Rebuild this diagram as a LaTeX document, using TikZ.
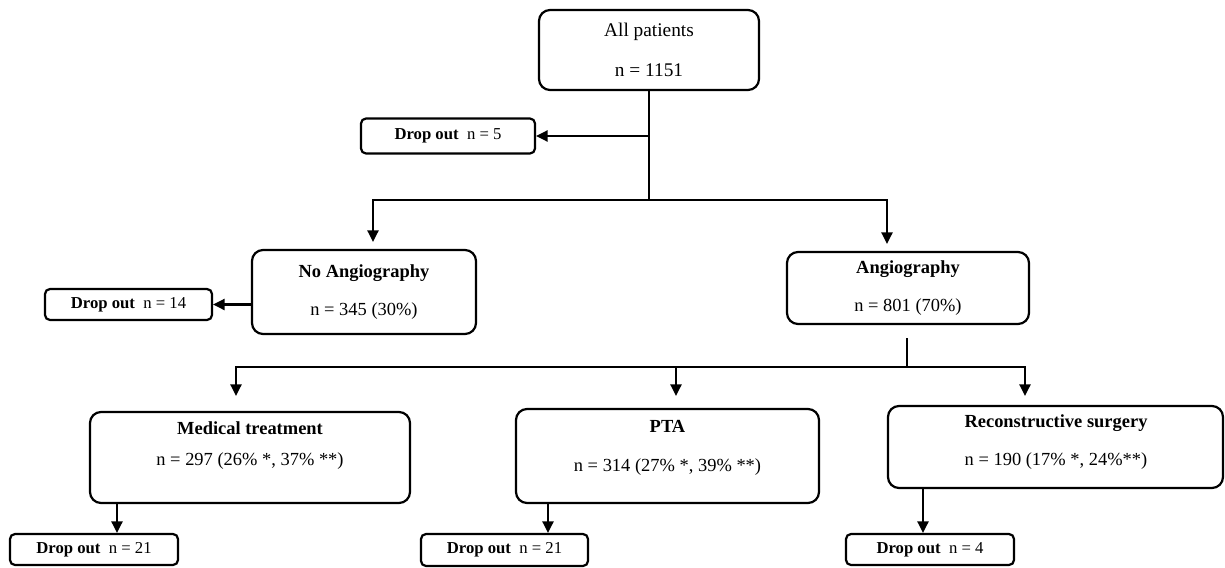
\documentclass[tikz,border=0pt]{standalone}
\usepackage{fontspec}
\setmainfont{Liberation Serif}
\usetikzlibrary{arrows.meta}

\newcommand{\dropout}[1]{\textbf{Drop out}\enspace n = #1}

\begin{document}
\begin{tikzpicture}[
    bigbox/.style={draw, line width=1.25pt, rounded corners=0.22cm},
    dropbox/.style={draw, line width=1.25pt, rounded corners=0.1cm, font=\fontsize{9.5}{11.4}\selectfont},
    boxtext/.style={align=center, font=\fontsize{10.5}{12.6}\selectfont},
    ln/.style={line width=1.25pt},
    arr/.style={line width=1.25pt, -{Triangle[length=0.23cm,width=0.22cm]}}
]
    \useasboundingbox (0,0) rectangle (24.5,-11.34);

    % top
    \node[bigbox, minimum width=4.4cm, minimum height=1.6cm, align=center, font=\fontsize{11}{13.2}\selectfont] (all) at (12.98,-1.0) {All patients\\[10pt] n = 1151};
    \node[dropbox, minimum width=3.48cm, minimum height=0.7cm] (drop0) at (8.96,-2.72) {\dropout{5}};

    % first split
    \node[bigbox, boxtext, minimum width=4.48cm, minimum height=1.68cm] (noang) at (7.28,-5.84) {\textbf{No Angiography}\\[9.5pt] n = 345 (30\%)};
    \node[dropbox, minimum width=3.34cm, minimum height=0.62cm] (drop1) at (2.57,-6.09) {\dropout{14}};
    \node[bigbox, boxtext, minimum width=4.84cm, minimum height=1.44cm] (ang) at (18.16,-5.76) {\textbf{Angiography}\\[9.5pt] n = 801 (70\%)};

    % second split
    \node[bigbox, minimum width=6.4cm, minimum height=1.82cm] (med) at (5.0,-9.15) {};
    \node[boxtext] (medtxt) at (5.0,-8.91) {\textbf{Medical treatment}\\[5pt] n = 297 (26\% *, 37\% **)};
    \node[bigbox, minimum width=6.06cm, minimum height=1.88cm] (pta) at (13.35,-9.12) {};
    \node[boxtext] (ptatxt) at (13.35,-8.95) {\textbf{PTA}\\[9.5pt] n = 314 (27\% *, 39\% **)};
    \node[bigbox, minimum width=6.7cm, minimum height=1.64cm] (recon) at (21.11,-8.94) {};
    \node[boxtext] (recontxt) at (21.12,-8.84) {\textbf{Reconstructive surgery}\\[9pt] n = 190 (17\% *, 24\%**)};

    \node[dropbox, minimum width=3.36cm, minimum height=0.62cm] (drop2) at (1.88,-10.99) {\dropout{21}};
    \node[dropbox, minimum width=3.34cm, minimum height=0.64cm] (drop3) at (10.09,-11.0) {\dropout{21}};
    \node[dropbox, minimum width=3.36cm, minimum height=0.62cm] (drop4) at (18.6,-10.99) {\dropout{4}};

    % connectors
    \coordinate (s1) at (12.98,-4.0);
    \coordinate (s1l) at (7.46,-4.0);
    \coordinate (s1r) at (17.74,-4.0);
    \draw[ln] (all.south) -- (s1);
    \draw[arr] (all.south |- drop0.east) -- (drop0.east);
    \draw[arr, shorten >=0.14cm] (s1) -- (s1l) -- (s1l |- noang.north);
    \draw[arr, shorten >=0.14cm] (s1) -- (s1r) -- (s1r |- ang.north);
    \draw[arr] (noang.west |- drop1.east) -- (drop1.east);

    \coordinate (s2) at (18.14,-7.34);
    \coordinate (s2l) at (4.72,-7.34);
    \coordinate (s2m) at (13.52,-7.34);
    \coordinate (s2r) at (20.5,-7.34);
    \draw[ln] ([yshift=-0.26cm]s2 |- ang.south) -- (s2);
    \draw[arr, shorten >=0.3cm] (s2) -- (s2l) -- (s2l |- med.north);
    \draw[arr, shorten >=0.24cm] (s2m) -- (s2m |- pta.north);
    \draw[arr, shorten >=0.18cm] (s2) -- (s2r) -- (s2r |- recon.north);

    \coordinate (d2) at ([xshift=-2.66cm]med.south);
    \coordinate (d3) at ([xshift=-2.39cm]pta.south);
    \coordinate (d4) at ([xshift=-2.65cm]recon.south);
    \draw[arr] (d2) -- (d2 |- drop2.north);
    \draw[arr] (d3) -- (d3 |- drop3.north);
    \draw[arr] (d4) -- (d4 |- drop4.north);

\end{tikzpicture}
\end{document}
